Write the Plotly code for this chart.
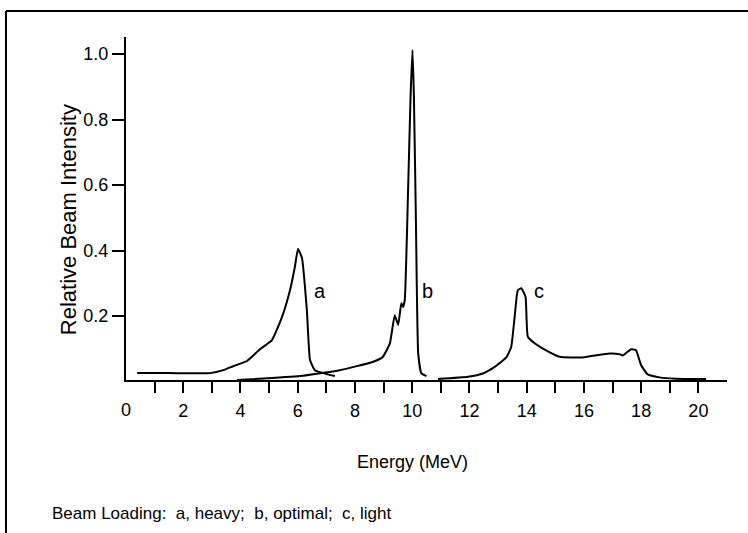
import plotly.graph_objects as go

# Curve a: heavy beam loading
a_x = [0.39, 1.5, 2.94, 3.4, 3.74, 4.23, 4.68, 5.10, 5.45, 5.73, 5.90, 6.01, 6.15, 6.32, 6.43, 6.60, 7.30]
a_y = [0.026, 0.026, 0.026, 0.035, 0.047, 0.063, 0.099, 0.127, 0.197, 0.279, 0.35, 0.405, 0.377, 0.218, 0.066, 0.035, 0.017]

# Curve b: optimal beam loading
b_x = [3.88, 6.08, 7.47, 8.62, 8.97, 9.22, 9.39, 9.51, 9.62, 9.68, 9.74, 9.86, 9.94, 10.01, 10.06, 10.13, 10.21, 10.32, 10.50]
b_y = [0.005, 0.017, 0.035, 0.06, 0.075, 0.117, 0.203, 0.173, 0.239, 0.228, 0.249, 0.595, 0.86, 1.012, 0.87, 0.493, 0.086, 0.025, 0.017]

# Curve c: light beam loading
c_x = [10.9, 11.95, 12.47, 12.88, 13.29, 13.46, 13.58, 13.69, 13.81, 13.96, 14.04, 14.28, 14.57, 15.15, 15.96, 16.89, 17.24, 17.36, 17.65, 17.82, 18.0, 18.23, 18.64, 19.2, 20.27]
c_y = [0.008, 0.015, 0.025, 0.045, 0.074, 0.106, 0.198, 0.279, 0.285, 0.259, 0.137, 0.117, 0.101, 0.076, 0.074, 0.086, 0.084, 0.080, 0.099, 0.096, 0.05, 0.022, 0.013, 0.009, 0.008]

labels = ["a", "b", "c"]
label_x = [6.78, 10.55, 14.42]
label_y = [0.276, 0.276, 0.276]

x_ticks = [2, 4, 6, 8, 10, 12, 14, 16, 18, 20]
x_minor_ticks = [1, 3, 5, 7, 9, 11, 13, 15, 17, 19]
x_origin_label = "0"
y_ticks = [0.2, 0.4, 0.6, 0.8, 1.0]
y_ticktext = ["0.2", "0.4", "0.6", "0.8", "1.0"]

REG = "Liberation Sans, Arial, Helvetica, sans-serif"
INK = "#000000"

fig = go.Figure()
for xs, ys in [(a_x, a_y), (b_x, b_y), (c_x, c_y)]:
    fig.add_trace(go.Scatter(x=xs, y=ys, mode="lines",
                             line=dict(color=INK, width=2, shape="spline", smoothing=0.4),
                             showlegend=False, hoverinfo="skip"))

for t, x, y in zip(labels, label_x, label_y):
    fig.add_annotation(x=x, y=y, text=t, showarrow=False,
                       font=dict(family=REG, size=20, color=INK))

fig.update_xaxes(range=[0, 21], tickvals=x_ticks, ticktext=[str(v) for v in x_ticks],
                 ticks="outside", ticklen=11, tickwidth=2, tickcolor=INK,
                 minor=dict(tickvals=x_minor_ticks, ticks="outside", ticklen=11, tickwidth=2, tickcolor=INK),
                 showline=True, linecolor=INK, linewidth=2, showgrid=False, zeroline=False,
                 tickfont=dict(family=REG, size=18, color=INK), ticklabelstandoff=2)
fig.update_yaxes(range=[0.005, 1.052], tickvals=y_ticks, ticktext=y_ticktext,
                 ticks="outside", ticklen=12, tickwidth=2, tickcolor=INK,
                 showline=True, linecolor=INK, linewidth=2, showgrid=False, zeroline=False,
                 tickfont=dict(family=REG, size=18, color=INK), ticklabelstandoff=0)

# origin label "0" on the x axis (no tick mark there)
fig.add_annotation(x=0, xref="x", yref="paper", y=-0.088, text=x_origin_label, showarrow=False,
                   xanchor="center", yanchor="middle", font=dict(family=REG, size=18, color=INK))

# Axis titles and caption
fig.add_annotation(xref="paper", yref="paper", x=-0.0965, y=0.466, text="Relative Beam Intensity",
                   textangle=-90, showarrow=False, xanchor="center", yanchor="middle",
                   font=dict(family=REG, size=22, color=INK))
fig.add_annotation(xref="paper", yref="paper", x=0.476, y=-0.239, text="Energy (MeV)",
                   showarrow=False, xanchor="center", yanchor="middle",
                   font=dict(family=REG, size=18, color=INK))
fig.add_annotation(xref="paper", yref="paper", x=-0.1265, y=-0.388,
                   text="Beam Loading:&nbsp; a, heavy;&nbsp; b, optimal;&nbsp; c, light",
                   showarrow=False, xanchor="left", yanchor="middle",
                   font=dict(family=REG, size=17, color=INK))

# Outer frame (top and left edges)
fig.add_shape(type="line", xref="paper", yref="paper", x0=-0.1997, y0=1.0758, x1=1.05, y1=1.0758,
              line=dict(color=INK, width=2))
fig.add_shape(type="line", xref="paper", yref="paper", x0=-0.1997, y0=1.0758, x1=-0.1997, y1=-0.5,
              line=dict(color=INK, width=2))

fig.update_layout(width=748, height=533, margin=dict(l=126, r=21, t=37, b=153),
                  plot_bgcolor="white", paper_bgcolor="white")
fig.write_html("out.html", config={"displayModeBar": False},
               post_script="document.body.style.margin='0px';")
